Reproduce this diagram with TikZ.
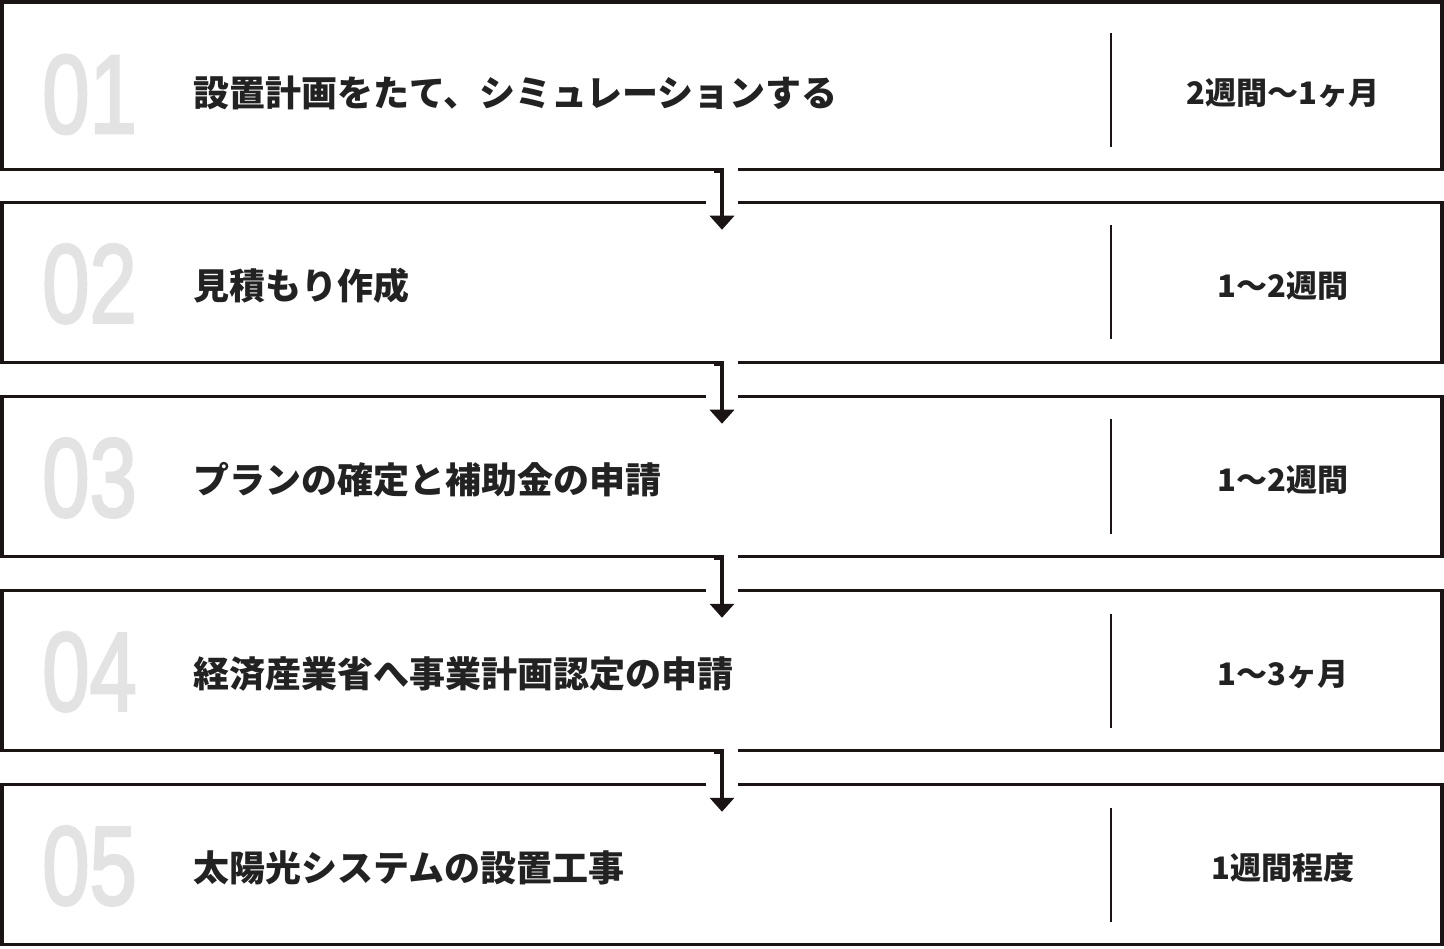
\documentclass[tikz,border=0pt]{standalone}
\usepackage{graphicx}
\usepackage{fontspec}
\setmainfont{Noto Sans CJK JP}
\newfontfamily\numfont{Liberation Sans}[FakeBold=2.5]
\usetikzlibrary{arrows.meta}
\definecolor{linecol}{HTML}{1A1414}
\definecolor{textcol}{HTML}{222222}
\definecolor{numcol}{HTML}{E3E3E3}

\begin{document}
\begin{tikzpicture}[x=1pt, y=-1pt,
  stepbox/.style={draw=linecol, line width=3.5pt, minimum width=1440pt, minimum height=160pt, inner sep=0pt},
  numtext/.style={anchor=base west, text=numcol, inner sep=0pt, font=\numfont\fontsize{112}{112}\selectfont},
  steptext/.style={anchor=base west, text=textcol, inner sep=0pt, font=\fontsize{36}{40}\selectfont\bfseries},
  spantext/.style={anchor=base, text=textcol, inner sep=0pt, font=\fontsize{31}{36}\selectfont\bfseries},
  divider/.style={draw=linecol, line width=2pt},
  gap/.style={fill=white},
  flow/.style={draw=linecol, line width=3.5pt, line join=miter, -{Triangle[width=24pt,length=14pt]}}]
\useasboundingbox (0,0) rectangle (1444,949);

% the five steps
\node[stepbox, minimum height=167.5pt] (s1) at (722, 85.75) {};
\node[stepbox] (s2) at (722, 282.5) {};
\node[stepbox] (s3) at (722, 476.5) {};
\node[stepbox] (s4) at (722, 670.5) {};
\node[stepbox] (s5) at (722, 864.5) {};

% openings in the edges
\fill[gap] ([xshift=2pt,yshift=3pt]s1.south) rectangle ([xshift=16pt,yshift=-3pt]s1.south);
\fill[gap] ([xshift=-16pt,yshift=3pt]s2.north) rectangle ([xshift=16pt,yshift=-3pt]s2.north);
\fill[gap] ([xshift=2pt,yshift=3pt]s2.south) rectangle ([xshift=16pt,yshift=-3pt]s2.south);
\fill[gap] ([xshift=-16pt,yshift=3pt]s3.north) rectangle ([xshift=16pt,yshift=-3pt]s3.north);
\fill[gap] ([xshift=2pt,yshift=3pt]s3.south) rectangle ([xshift=16pt,yshift=-3pt]s3.south);
\fill[gap] ([xshift=-16pt,yshift=3pt]s4.north) rectangle ([xshift=16pt,yshift=-3pt]s4.north);
\fill[gap] ([xshift=2pt,yshift=3pt]s4.south) rectangle ([xshift=16pt,yshift=-3pt]s4.south);
\fill[gap] ([xshift=-16pt,yshift=3pt]s5.north) rectangle ([xshift=16pt,yshift=-3pt]s5.north);

% arrows
\draw[flow] ([xshift=-8pt]s1.south) -- (s1.south) -- ([yshift=-29pt]s2.north);
\draw[flow] ([xshift=-8pt]s2.south) -- (s2.south) -- ([yshift=-29pt]s3.north);
\draw[flow] ([xshift=-8pt]s3.south) -- (s3.south) -- ([yshift=-29pt]s4.north);
\draw[flow] ([xshift=-8pt]s4.south) -- (s4.south) -- ([yshift=-29pt]s5.north);

% numbers
\node[numtext] (n1) at (42, 133) {\scalebox{0.76}[1]{01}};
\node[numtext] (n2) at (42, 322.5) {\scalebox{0.76}[1]{02}};
\node[numtext] (n3) at (42, 516.5) {\scalebox{0.76}[1]{03}};
\node[numtext] (n4) at (42, 710.5) {\scalebox{0.76}[1]{04}};
\node[numtext] (n5) at (42, 904.5) {\scalebox{0.76}[1]{05}};

% step names
\node[steptext] (t1) at (193, 107) {設置計画をたて、シミュレーションする};
\node[steptext] (t2) at (193, 299.5) {見積もり作成};
\node[steptext] (t3) at (193, 493.5) {プランの確定と補助金の申請};
\node[steptext] (t4) at (193, 687.5) {経済産業省へ事業計画認定の申請};
\node[steptext] (t5) at (193, 881.5) {太陽光システムの設置工事};

% dividers
\draw[divider] (1111, 33) -- (1111, 147);
\draw[divider] (1111, 225.5) -- (1111, 339.5);
\draw[divider] (1111, 419.5) -- (1111, 533.5);
\draw[divider] (1111, 613.5) -- (1111, 727.5);
\draw[divider] (1111, 807.5) -- (1111, 921.5);

% durations
\node[spantext] (d1) at (1283, 105) {2週間〜1ヶ月};
\node[spantext] (d2) at (1283, 297.5) {1〜2週間};
\node[spantext] (d3) at (1283, 491.5) {1〜2週間};
\node[spantext] (d4) at (1283, 685.5) {1〜3ヶ月};
\node[spantext] (d5) at (1283, 879.5) {1週間程度};
\end{tikzpicture}
\end{document}
